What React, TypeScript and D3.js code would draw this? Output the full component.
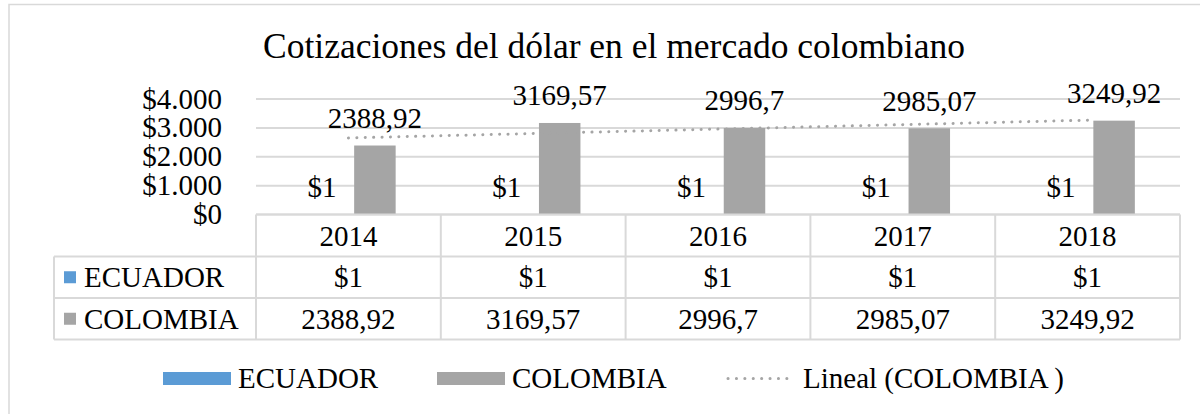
import React from "react";
import * as d3 from "d3";

const years = ["2014", "2015", "2016", "2017", "2018"];
const seriesNames = ["ECUADOR", "COLOMBIA"];
const ecuador = [1, 1, 1, 1, 1];
const colombia = [2388.92, 3169.57, 2996.7, 2985.07, 3249.92];
const ecuadorLabels = ["$1", "$1", "$1", "$1", "$1"];
const colombiaLabels = ["2388,92", "3169,57", "2996,7", "2985,07", "3249,92"];
const yTicks = [0, 1000, 2000, 3000, 4000];
const yTickLabels = ["$0", "$1.000", "$2.000", "$3.000", "$4.000"];
const colors = ["#5b9bd5", "#a5a5a5"];
const title = "Cotizaciones del dólar en el mercado colombiano";
const trendLabel = "Lineal (COLOMBIA )";

const FONT = '"Liberation Serif", "Times New Roman", Tinos, "DejaVu Serif", serif';
const GRID = "#d9d9d9";

export default function App() {
  const W = 1200, H = 414;
  const plotL = 256, plotR = 1180, plotTop = 99, plotBottom = 214.5;
  const x0 = d3.scaleBand<string>().domain(years).range([plotL, plotR]).padding(0);
  const x1 = d3
    .scaleBand<string>()
    .domain(seriesNames)
    .range([0, x0.bandwidth()])
    .paddingInner(0.217)
    .paddingOuter(0.852);
  const y = d3.scaleLinear().domain([0, 4000]).range([plotBottom, plotTop]);

  // linear trend (least squares) for COLOMBIA
  const xs = colombia.map((_, i) => i + 1);
  const mx = d3.mean(xs)!;
  const my = d3.mean(colombia)!;
  const slope =
    d3.sum(xs.map((xv, i) => (xv - mx) * (colombia[i] - my))) /
    d3.sum(xs.map((xv) => (xv - mx) ** 2));
  const intercept = my - slope * mx;
  const trendPts: [number, number][] = [
    [x0(years[0])! + x0.bandwidth() / 2, y(intercept + slope * 1)],
    [x0(years[years.length - 1])! + x0.bandwidth() / 2, y(intercept + slope * years.length)],
  ];
  const line = d3.line();

  const fs = 29;
  const rowTop = [214.5, 256.5, 298, 339.5];
  const tableL = 54;

  const seriesData = [ecuador, colombia];
  const seriesLabels = [ecuadorLabels, colombiaLabels];

  return (
    <svg
      width={W}
      height={H}
      style={{ position: "absolute", left: 0, top: 0, background: "#fff", fontFamily: FONT }}
    >
      <rect x={0} y={0} width={W} height={H} fill="#fff" />
      <rect x={9} y={4.5} width={1210} height={420} fill="#fff" stroke={GRID} strokeWidth={1.5} />
      <text x={614} y={58} textAnchor="middle" fontSize={35.5} fill="#000">
        {title}
      </text>

      {/* gridlines */}
      {yTicks.map((t) => (
        <line key={t} x1={plotL} x2={plotR} y1={y(t)} y2={y(t)} stroke={GRID} strokeWidth={2} />
      ))}
      {yTicks.map((t, i) => (
        <text key={t} x={222} y={y(t) + 9.5} textAnchor="end" fontSize={fs} fill="#000">
          {yTickLabels[i]}
        </text>
      ))}

      {/* bars */}
      {seriesData.map((vals, s) =>
        vals.map((v, i) => {
          const bx = x0(years[i])! + x1(seriesNames[s])!;
          return (
            <rect
              key={`${s}-${i}`}
              x={bx}
              y={y(v)}
              width={x1.bandwidth()}
              height={plotBottom - y(v)}
              fill={colors[s]}
            />
          );
        })
      )}

      {/* trend */}
      <path
        d={line(trendPts)!}
        fill="none"
        stroke="#a5a5a5"
        strokeWidth={3}
        strokeLinecap="round"
        strokeDasharray="0.1 8.3"
      />

      {/* data labels */}
      {seriesData.map((vals, s) =>
        vals.map((v, i) => {
          const cx = x0(years[i])! + x1(seriesNames[s])! + x1.bandwidth() / 2;
          return (
            <text key={`l${s}-${i}`} x={cx} y={y(v) - 17.5} textAnchor="middle" fontSize={fs} fill="#000">
              {seriesLabels[s][i]}
            </text>
          );
        })
      )}

      {/* data table */}
      <g stroke={GRID} strokeWidth={2} fill="none">
        <line x1={plotL} x2={plotR} y1={rowTop[0]} y2={rowTop[0]} />
        <line x1={tableL} x2={plotR} y1={rowTop[1]} y2={rowTop[1]} />
        <line x1={tableL} x2={plotR} y1={rowTop[2]} y2={rowTop[2]} />
        <line x1={tableL} x2={plotR} y1={rowTop[3]} y2={rowTop[3]} />
        <line x1={tableL} x2={tableL} y1={rowTop[1]} y2={rowTop[3]} />
        {years.map((yr) => (
          <line key={yr} x1={x0(yr)!} x2={x0(yr)!} y1={rowTop[0]} y2={rowTop[3]} />
        ))}
        <line x1={plotR} x2={plotR} y1={rowTop[0]} y2={rowTop[3]} />
      </g>
      {years.map((yr) => (
        <text
          key={yr}
          x={x0(yr)! + x0.bandwidth() / 2}
          y={(rowTop[0] + rowTop[1]) / 2 + 10}
          textAnchor="middle"
          fontSize={fs}
        >
          {yr}
        </text>
      ))}
      {seriesNames.map((name, s) => {
        const cy = (rowTop[s + 1] + rowTop[s + 2]) / 2;
        return (
          <g key={name}>
            <rect x={64} y={cy - 6} width={12} height={12} fill={colors[s]} />
            <text x={84} y={cy + 10} fontSize={fs}>
              {name}
            </text>
            {years.map((yr, i) => (
              <text
                key={yr}
                x={x0(yr)! + x0.bandwidth() / 2}
                y={cy + 10}
                textAnchor="middle"
                fontSize={fs}
              >
                {seriesLabels[s][i]}
              </text>
            ))}
          </g>
        );
      })}

      {/* legend */}
      <g>
        <rect x={163} y={372} width={68} height={13} fill={colors[0]} />
        <text x={238} y={388} fontSize={fs}>{seriesNames[0]}</text>
        <rect x={437} y={372} width={68} height={13} fill={colors[1]} />
        <text x={512} y={388} fontSize={fs}>{seriesNames[1]}</text>
        <line
          x1={728}
          x2={788}
          y1={378.5}
          y2={378.5}
          stroke="#a5a5a5"
          strokeWidth={3}
          strokeLinecap="round"
          strokeDasharray="0.1 8.3"
        />
        <text x={803} y={388} fontSize={fs}>{trendLabel}</text>
      </g>
    </svg>
  );
}
